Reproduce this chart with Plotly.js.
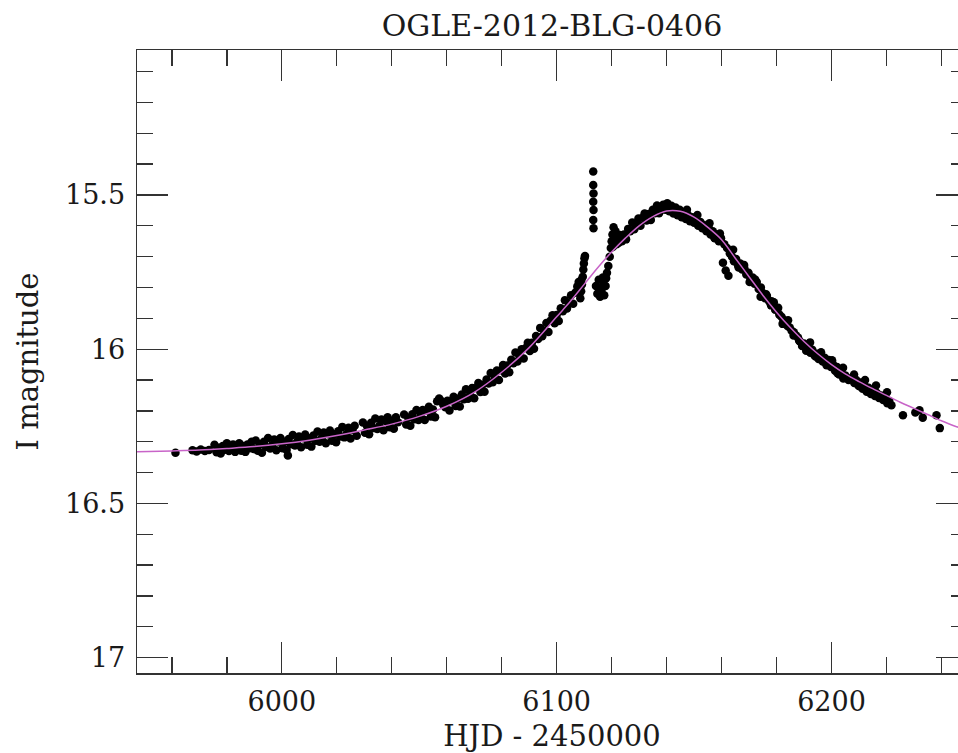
<!DOCTYPE html>
<html>
<head>
<meta charset="utf-8">
<script src="https://cdn.plot.ly/plotly-3.0.1.min.js"></script>
<style>
html, body { margin: 0; padding: 0; overflow: hidden; background: #fff; }
#chart { width: 970px; height: 753px; }
</style>
</head>
<body>
<div id="chart"></div>
<script>
// Observed photometry: HJD - 2450000
var obsT = [
5961.3,5967.5,5969.0,5970.5,5972.0,5973.5,
5975.5,5976.25,5977.0,5977.75,5978.5,5979.25,5980.0,5980.75,5981.5,5982.25,5983.0,5983.75,5984.5,5985.25,
5986.0,5986.75,5987.5,5988.25,5989.0,5989.75,
5990.5,5991.25,5992.0,5992.75,5993.5,5994.25,5995.0,5995.75,5996.5,5997.25,5998.0,5998.75,5999.5,6000.25,
6001.0,6001.75,6002.2,6002.5,6003.25,6004.0,6004.75,6005.5,6006.25,6007.0,6007.75,6008.5,6009.25,6010.0,
6010.75,6011.5,6012.25,6013.0,6013.75,6014.5,6015.25,6016.0,6016.75,6017.5,6018.25,6019.0,6019.75,6020.5,
6021.25,6022.0,6022.75,6023.5,6024.25,6025.0,6025.75,6026.5,6027.25,
6029.5,6030.25,6031.0,6031.75,6032.5,6033.25,6034.0,6034.75,6035.5,6036.25,6037.0,6037.75,6038.5,6039.25,
6040.0,6040.75,6041.5,6042.25,
6044.5,6045.25,6046.0,6046.75,6047.5,6048.25,6049.0,6049.75,6050.5,6051.25,6052.0,6052.75,6053.5,6054.25,
6055.0,6055.75,6056.5,6057.25,6058.0,6058.75,6059.5,6060.25,6061.0,6061.75,6062.5,6063.25,6064.0,6064.75,
6065.5,6066.25,6067.0,6067.75,6068.5,6069.25,6070.0,6070.75,6071.5,6072.25,6073.0,6073.75,6074.5,6075.25,
6076.0,6076.75,6077.5,6078.25,6079.0,6079.75,6080.5,6081.25,6082.0,6082.75,6083.5,6084.25,6085.0,6085.75,
6086.5,6087.25,6088.0,6088.75,6089.5,6090.25,6091.0,6091.75,6092.5,6093.25,6094.0,6094.75,6095.5,6096.25,
6097.0,6097.75,6098.5,6099.25,6100.0,6100.75,6101.5,6102.25,6103.0,6103.75,6104.5,6105.25,6106.0,6106.75,
6107.5,6108.0,
6108.6,6108.9,6109.0,6109.2,6109.5,6109.7,6109.9,6110.1,6110.3,
6113.3,6113.3,6113.4,6113.3,6113.4,6113.3,6113.4,
6114.3,6114.8,6115.3,6115.5,6115.8,6116.3,6116.8,6117.0,6117.3,6117.8,6118.0,6118.3,6118.8,
6119.3,6119.7,6120.0,6120.3,6120.5,6120.7,6121.0,6121.4,6121.8,6122.2,6122.6,
6123.0,6123.75,6124.5,6125.25,6126.0,6126.75,6127.5,6128.25,6129.0,6129.75,6130.5,6131.25,6132.0,6132.75,
6133.5,6134.25,6135.0,6135.75,6136.5,6137.25,6138.0,
6138.75,6139.2,6139.5,6140.25,6141.0,6141.75,6142.0,6142.5,6143.25,6144.0,6144.75,6145.5,
6146.3,6147.0,6147.8,6148.5,6149.3,6150.0,6150.8,6151.5,6152.3,6153.0,6153.8,6154.5,6155.3,6156.0,
6156.8,6157.5,6158.3,6159.0,6159.8,6160.5,6161.0,6161.5,6162.0,6162.5,6163.0,6163.8,6164.5,6165.3,
6166.0,6166.8,6167.5,6168.3,6169.0,6169.8,6170.5,6171.3,6172.0,6172.8,6173.5,6174.3,6175.0,6175.8,
6176.5,6177.3,6178.0,6178.8,6179.5,6180.3,6181.0,6181.8,6182.5,6183.3,6184.0,6184.8,6185.5,6186.3,
6187.0,6187.8,6188.5,6189.3,6190.0,6190.8,6191.5,6192.3,6193.0,6193.8,6194.5,6195.3,
6196.0,6196.8,6197.5,6198.3,6199.0,6199.8,6200.5,6201.3,6202.0,6202.8,6203.5,6204.3,6205.0,
6207.5,6208.3,6209.0,6209.8,6210.5,6211.3,6212.0,6212.8,6213.5,6214.3,6215.0,6215.8,6216.5,6217.3,
6218.0,6218.8,6219.5,6220.3,6221.0,6221.8,
6226.0,6230.5,6232.0,6233.2,6238.2,6239.4,
6147.4,6149.4,6151.2,6153.4,6155.6,6157.4,6159.4,6164.2,6166.2,6168.2,6170.2,6172.2,6174.2,6176.2,
6178.2,6179.0,6180.6,6182.2,6184.2,6186.2,6188.2,6190.2,6192.2,6194.2,6196.2,6198.2,6200.2,6202.2,
6204.2,6206.2,6208.2,6210.2,6212.2,6214.2,6216.2,6218.2,6220.2
];
// Observed I magnitudes
var obsMag = [
16.336,16.328,16.332,16.325,16.330,16.327,
16.310,16.334,16.320,16.338,16.314,16.326,16.305,16.330,16.322,16.309,16.333,16.314,16.305,16.329,
16.314,16.333,16.309,16.321,16.300,16.324,
16.296,16.329,16.308,16.336,16.300,16.317,16.288,16.322,16.311,16.293,16.328,16.299,16.288,16.321,
16.300,16.327,16.345,16.291,16.308,16.278,16.312,16.301,16.283,16.318,16.289,16.277,16.310,16.289,
16.316,16.280,16.297,16.267,16.300,16.289,16.270,16.305,16.276,16.264,16.297,16.276,16.302,16.266,
16.283,16.252,16.286,16.275,16.255,16.290,16.261,16.248,16.281,
16.238,16.271,16.249,16.276,16.239,16.256,16.225,16.259,16.248,16.228,16.263,16.233,16.221,16.253,
16.232,16.258,16.221,16.237,
16.212,16.244,16.222,16.248,16.211,16.227,16.197,16.230,16.217,16.197,16.230,16.200,16.187,16.218,
16.196,16.221,16.169,16.160,16.168,16.180,16.188,16.167,16.199,16.168,16.154,16.184,16.161,16.186,
16.147,16.162,16.130,16.161,16.148,16.126,16.159,16.126,16.110,16.139,16.115,16.138,16.098,16.111,
16.077,16.107,16.092,16.069,16.100,16.068,16.051,16.079,16.053,16.075,16.034,16.046,16.011,16.040,
16.024,16.000,16.030,15.996,15.979,16.006,15.979,15.999,15.957,15.967,15.931,15.958,15.941,15.915,
15.944,15.908,15.890,15.916,15.889,15.909,15.867,15.877,15.841,15.868,15.851,15.825,15.853,15.817,
15.797,15.782,
15.835,15.812,15.775,15.790,15.765,15.742,15.722,15.705,15.698,
15.424,15.468,15.495,15.522,15.549,15.581,15.608,
15.795,15.820,15.775,15.805,15.830,15.808,15.768,15.790,15.825,15.795,15.770,15.752,15.730,
15.700,15.672,15.650,15.628,15.668,15.605,15.640,15.618,15.660,15.635,15.655,
15.630,15.650,15.628,15.644,15.610,15.618,15.589,15.611,15.597,15.576,15.600,15.574,15.560,15.583,
15.562,15.581,15.548,15.559,15.534,15.559,15.548,
15.532,15.538,15.548,15.527,15.553,15.535,15.545,15.560,15.541,15.566,15.548,15.572,
15.560,15.578,15.565,15.585,15.572,15.590,15.580,15.600,15.588,15.608,15.598,15.618,15.605,15.628,
15.618,15.640,15.628,15.650,15.640,15.720,15.660,15.745,15.672,15.762,15.690,15.700,15.715,15.708,
15.728,15.722,15.742,15.738,15.758,15.752,15.772,15.768,15.788,15.782,15.805,15.800,15.818,15.835,
15.828,15.845,15.858,15.852,15.872,15.870,15.888,15.895,15.905,15.912,15.925,15.930,15.940,15.945,
15.955,15.962,15.975,15.990,15.982,16.005,15.995,16.012,16.002,16.020,16.015,16.032,
16.018,16.040,16.028,16.048,16.035,16.058,16.048,16.070,16.058,16.082,16.072,16.095,16.085,
16.092,16.110,16.100,16.118,16.108,16.128,16.118,16.138,16.125,16.145,16.135,16.152,16.142,16.158,
16.150,16.165,16.158,16.175,16.168,16.182,
16.214,16.205,16.198,16.222,16.214,16.256,
15.548,15.583,15.565,15.607,15.592,15.638,15.625,15.678,15.735,15.727,15.782,15.774,15.830,15.822,
15.845,15.848,15.866,15.918,15.906,15.956,15.972,15.990,15.978,16.024,16.010,16.052,16.036,16.078,
16.060,16.100,16.082,16.120,16.100,16.138,16.118,16.155,16.140
];
// Model curve
var modelT = [5947,5960,5970,5980,5990,6000,6010,6020,6030,6040,6050,6060,6070,6080,6090,6100,6105,6110,6115,6120,6125,6130,6135,6140,6145,6150,6155,6160,6165,6170,6175,6180,6185,6190,6195,6200,6205,6210,6215,6220,6225,6230,6235,6240,6245,6250];
var modelMag = [16.333,16.330,16.327,16.322,16.316,16.307,16.295,16.280,16.262,16.243,16.218,16.185,16.140,16.075,15.995,15.895,15.845,15.790,15.735,15.685,15.640,15.600,15.570,15.552,15.553,15.572,15.605,15.645,15.705,15.765,15.825,15.880,15.930,15.975,16.015,16.050,16.080,16.105,16.128,16.150,16.172,16.192,16.212,16.232,16.250,16.262];

var titleText = 'OGLE-2012-BLG-0406';
var xTitle = 'HJD - 2450000';
var yTitle = 'I magnitude';

var FONT = 'DejaVu Serif, Liberation Serif, serif';
var axisColor = '#333333';

var traces = [
  {
    x: obsT, y: obsMag, type: 'scatter', mode: 'markers',
    marker: {color: '#000000', size: 8.5, line: {width: 0}},
    hoverinfo: 'x+y', showlegend: false
  },
  {
    x: modelT, y: modelMag, type: 'scatter', mode: 'lines',
    line: {color: '#c864c8', width: 1.5, shape: 'spline', smoothing: 1},
    hoverinfo: 'skip', showlegend: false
  }
];

var common = {
  showline: true, linecolor: axisColor, linewidth: 1.5,
  mirror: 'ticks', ticks: 'inside', ticklen: 31, tickwidth: 1.3, tickcolor: axisColor,
  showgrid: false, zeroline: false,
  tickfont: {family: FONT, size: 27, color: '#1a1a1a'}
};

var layout = {
  width: 970, height: 753,
  margin: {l: 137, r: 3, t: 50, b: 80},
  paper_bgcolor: '#ffffff', plot_bgcolor: '#ffffff',
  font: {family: FONT, color: '#1a1a1a'},
  title: {text: titleText, font: {family: FONT, size: 30, color: '#1a1a1a'},
          x: 0.5, xref: 'paper', y: 1 - 25/753, yref: 'container', yanchor: 'middle'},
  xaxis: Object.assign({}, common, {
    range: [5947.3, 6249.3], dtick: 100, tick0: 6000,
    minor: {dtick: 20, tick0: 6000, ticklen: 16, tickwidth: 1.3, tickcolor: axisColor, ticks: 'inside', showgrid: false},
    title: {text: xTitle, font: {family: FONT, size: 29, color: '#1a1a1a'}, standoff: 14},
    ticklabelstandoff: 4
  }),
  yaxis: Object.assign({}, common, {
    range: [17.05, 15.03], dtick: 0.5, tick0: 15,
    minor: {dtick: 0.1, tick0: 15, ticklen: 16, tickwidth: 1.3, tickcolor: axisColor, ticks: 'inside', showgrid: false},
    title: {text: yTitle, font: {family: FONT, size: 29, color: '#1a1a1a'}, standoff: 18},
    ticklabelstandoff: 5
  })
};

Plotly.newPlot('chart', traces, layout, {displayModeBar: false, staticPlot: true});
</script>
</body>
</html>
